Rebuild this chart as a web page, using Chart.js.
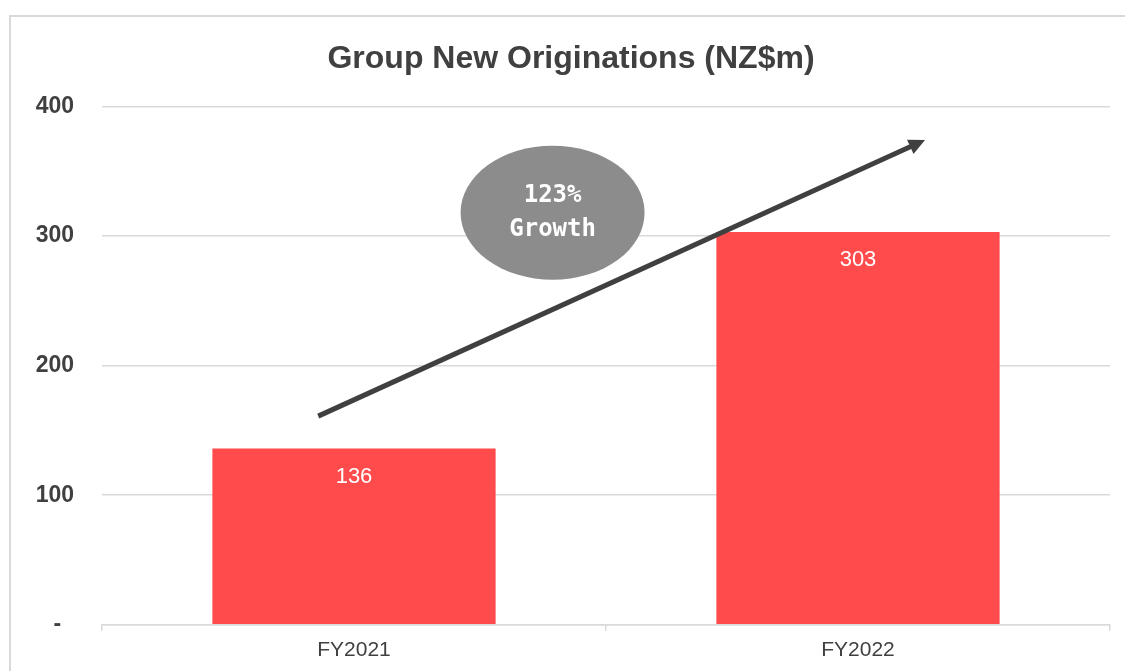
<!DOCTYPE html>
<html lang="en">
<head>
  <meta charset="UTF-8" />
  <title>Group New Originations</title>
  <style>
    body {
      margin: 0;
      background: #fff;
      overflow: hidden;
    }
    .frame {
      position: absolute;
      left: 9px;
      top: 15px;
      width: 1300px;
      height: 900px;
      border: 2px solid #d9d9d9;
    }
    .wrap {
      position: absolute;
      left: 0;
      top: 0;
      width: 1125px;
      height: 671px;
    }
  </style>
</head>
<body>
  <div class="frame"></div>
  <div class="wrap"><canvas id="chart"></canvas></div>

  <script src="https://cdn.jsdelivr.net/npm/chart.js"></script>
  <script>
    const categories = ['FY2021', 'FY2022'];
    const originations = [136, 303];
    const yTicks = [0, 100, 200, 300, 400];
    const growthText = ['123%', 'Growth'];

    // arrow + bubble, placed in data units (category index, NZ$m)
    const arrowFrom = [-0.071, 161];
    const arrowTo = [1.133, 374];
    const bubbleAt = [0.394, 318];

    const textColor = '#404040';
    const gridColor = '#d9d9d9';

    const valueLabels = {
      id: 'valueLabels',
      afterDatasetsDraw(chart) {
        const ctx = chart.ctx;
        const meta = chart.getDatasetMeta(0);
        ctx.save();
        ctx.fillStyle = '#fff';
        ctx.font = '22px "Liberation Sans", Arial, sans-serif';
        ctx.textAlign = 'center';
        ctx.textBaseline = 'middle';
        meta.data.forEach((bar, i) => {
          ctx.fillText(String(originations[i]), bar.x, bar.y + 28);
        });
        ctx.restore();
      }
    };

    const growthMarks = {
      id: 'growthMarks',
      afterDraw(chart) {
        const ctx = chart.ctx;
        const xs = chart.scales.x, ys = chart.scales.y;
        const px = v => xs.getPixelForValue(v);
        const py = v => ys.getPixelForValue(v);

        // bubble
        const cx = px(bubbleAt[0]), cy = py(bubbleAt[1]);
        ctx.save();
        ctx.fillStyle = '#8c8c8c';
        ctx.beginPath();
        ctx.ellipse(cx, cy, 92, 67, 0, 0, Math.PI * 2);
        ctx.fill();
        ctx.fillStyle = '#fff';
        ctx.font = 'bold 24px "DejaVu Sans Mono", monospace';
        ctx.textAlign = 'center';
        ctx.textBaseline = 'middle';
        ctx.fillText(growthText[0], cx, cy - 17);
        ctx.fillText(growthText[1], cx, cy + 17);

        // arrow
        const x1 = px(arrowFrom[0]), y1 = py(arrowFrom[1]);
        const x2 = px(arrowTo[0]), y2 = py(arrowTo[1]);
        const ang = Math.atan2(y2 - y1, x2 - x1);
        const head = 18;
        ctx.strokeStyle = textColor;
        ctx.fillStyle = textColor;
        ctx.lineWidth = 5;
        ctx.beginPath();
        ctx.moveTo(x1, y1);
        ctx.lineTo(x2 - Math.cos(ang) * head * 0.8, y2 - Math.sin(ang) * head * 0.8);
        ctx.stroke();
        ctx.beginPath();
        ctx.moveTo(x2, y2);
        ctx.lineTo(x2 - head * Math.cos(ang - 0.45), y2 - head * Math.sin(ang - 0.45));
        ctx.lineTo(x2 - head * Math.cos(ang + 0.45), y2 - head * Math.sin(ang + 0.45));
        ctx.closePath();
        ctx.fill();
        ctx.restore();
      }
    };

    new Chart(document.getElementById('chart'), {
      type: 'bar',
      data: {
        labels: categories,
        datasets: [{
          data: originations,
          backgroundColor: '#ff4b4b',
          borderWidth: 0,
          barPercentage: 0.562,
          categoryPercentage: 1
        }]
      },
      options: {
        responsive: true,
        maintainAspectRatio: false,
        animation: false,
        layout: { padding: { top: 18, right: 15, bottom: 1, left: 32 } },
        plugins: {
          legend: { display: false },
          tooltip: { enabled: false },
          title: {
            display: true,
            text: 'Group New Originations (NZ$m)',
            color: textColor,
            font: { family: '"Liberation Sans", Arial, sans-serif', size: 32, weight: 'bold' },
            padding: { top: 21.5, bottom: 28.5 }
          }
        },
        scales: {
          x: {
            grid: {
              offset: true,
              drawOnChartArea: false,
              drawTicks: true,
              tickLength: 6,
              color: gridColor,
              lineWidth: 1.5
            },
            border: { color: gridColor, width: 1.5 },
            ticks: {
              color: textColor,
              padding: 7,
              font: { family: '"Liberation Sans", Arial, sans-serif', size: 21 }
            }
          },
          y: {
            min: yTicks[0],
            max: yTicks[yTicks.length - 1],
            afterBuildTicks(scale) {
              scale.ticks = yTicks.map(v => ({ value: v }));
            },
            afterFit(scale) { scale.width = 70; },
            grid: { color: gridColor, lineWidth: 1.5, drawTicks: false },
            border: { display: false },
            ticks: {
              color: textColor,
              padding: 28,
              font: { family: '"Liberation Sans", Arial, sans-serif', size: 23, weight: 'bold' },
              callback: v => v === 0 ? '-  ' : String(v)
            }
          }
        }
      },
      plugins: [valueLabels, growthMarks]
    });
  </script>
</body>
</html>
